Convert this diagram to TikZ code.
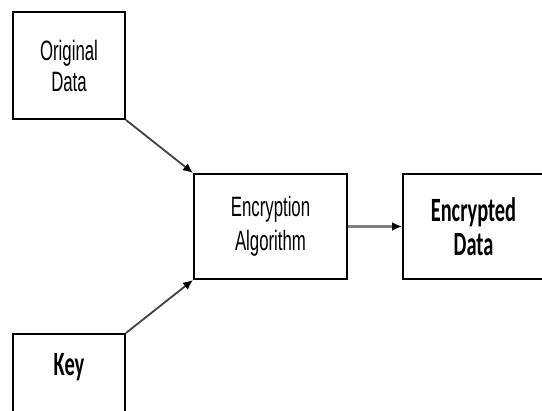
\documentclass[tikz,border=0pt]{standalone}
\usepackage{fontspec}
\setmainfont{Liberation Sans}[FakeStretch=0.6]
\newfontfamily\calfont{Carlito}[FakeStretch=0.6]
\usepackage{tikz}
\usetikzlibrary{positioning,arrows.meta}
\tikzset{
    block/.style = {
        draw,
        shape=rectangle,
        minimum height=53.5pt,
        minimum width=56pt,
        inner sep=0pt,
        line width=1pt,
        align=center,
        font=\fontsize{14}{15.5}\selectfont
    },
    boldblock/.style = {
        block,
        font=\calfont\bfseries\fontsize{17}{17}\selectfont
    },
    link/.style = {
        draw,
        ->,
        line width=0.9pt,
        black!75
    },
    >={Latex[black,length=5pt,width=4.5pt]},
}
\begin{document}
\begin{tikzpicture}[x=0.5pt,y=-0.5pt]
            \useasboundingbox (0,0) rectangle (542,411);

            \node[block] (orig) at (69,65.5) {Original\\Data};
            \node[block, minimum width=76.5pt, minimum height=52.5pt, font=\fontsize{14}{17}\selectfont] (algo) at (270.5,226.5) {Encryption\\Algorithm};
            \node[boldblock, minimum width=70.5pt, minimum height=52.5pt] (encdata) at (473.5,226.5) {Encrypted\\Data};
            \node[boldblock, anchor=north, minimum height=0pt, text height=21pt, text depth=32.5pt] (key) at (69,333) {Key};

            \path[link] (orig.south east) -- (algo.north west);
            \path[link] (key.north east) -- (algo.south west);
            \path[link, black!50, line width=1.1pt] (algo.east) -- (encdata.west);

        \end{tikzpicture}
\end{document}
